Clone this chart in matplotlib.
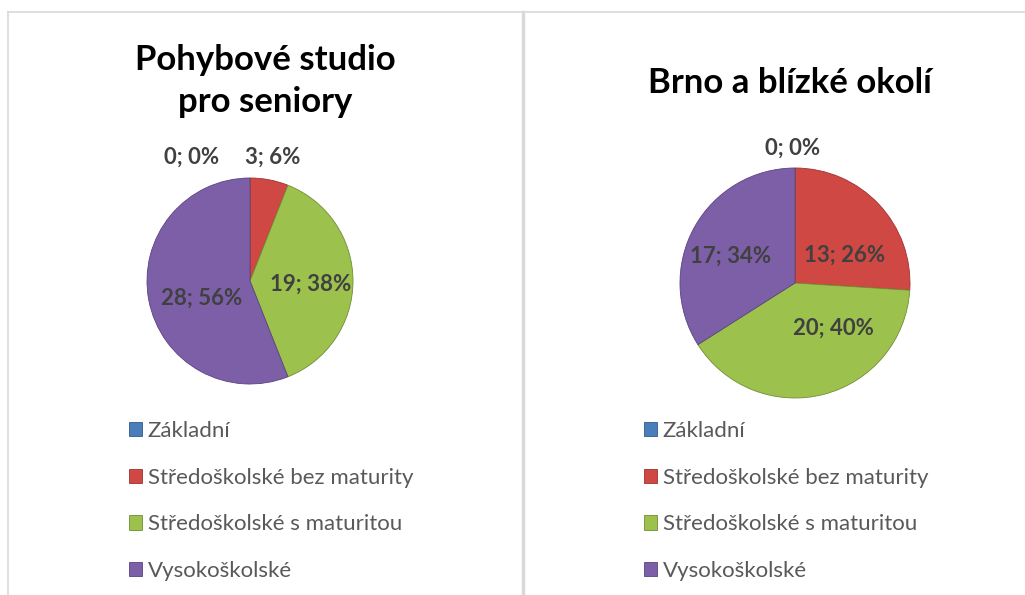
import matplotlib
matplotlib.use('Agg')
import matplotlib.pyplot as plt
from matplotlib.lines import Line2D
from matplotlib.patches import Patch

categories = ['Základní', 'Středoškolské bez maturity',
              'Středoškolské s maturitou', 'Vysokoškolské']
studio_counts = [0, 3, 19, 28]
studio_pct = [0, 6, 38, 56]
brno_counts = [0, 13, 20, 17]
brno_pct = [0, 26, 40, 34]
titles = ['Pohybové studio\npro seniory', 'Brno a blízké okolí']

colors = ['#4a7ebb', '#d04843', '#9cc24d', '#7d5fa8']
edge = ['#2f5a8c', '#9a3431', '#6f8d35', '#5a4380']

plt.rcParams['font.family'] = ['Lato', 'DejaVu Sans']

W, H = 1025, 595
fig = plt.figure(figsize=(W / 100, H / 100), dpi=100)

def fx(x):
    return x / W

def fy(y):
    return 1 - y / H

# panel frame lines
fig.add_artist(Line2D([fx(8), 1], [fy(12), fy(12)], color='#d9d9d9', lw=1.2))
fig.add_artist(Line2D([fx(8), fx(8)], [fy(12), 0], color='#d9d9d9', lw=1.2))
fig.add_artist(Line2D([fx(523), fx(523)], [fy(12), 0], color='#d9d9d9', lw=2.5))

panels = [
    dict(counts=studio_counts, pct=studio_pct, cx=250, cy=281, r=103,
         title=titles[0], tx=265, ty=81, leg_x=129, leg_y=421,
         lab_pos=[(-0.57, 1.20), (0.22, 1.20), (0.59, -0.03), (-0.47, -0.17)]),
    dict(counts=brno_counts, pct=brno_pct, cx=795, cy=283, r=115,
         title=titles[1], tx=790, ty=83, leg_x=644, leg_y=421,
         lab_pos=[(-0.02, 1.17), (0.43, 0.24), (0.33, -0.39), (-0.56, 0.23)]),
]

for p in panels:
    r = p['r']
    ax = fig.add_axes([fx(p['cx'] - r), fy(p['cy'] + r), 2 * r / W, 2 * r / H])
    wedges, _ = ax.pie(p['counts'], colors=colors, startangle=90, counterclock=False,
                       radius=1, wedgeprops=dict(linewidth=0.6))
    for w, ec in zip(wedges, edge):
        w.set_edgecolor(ec)
    ax.set_xlim(-1, 1)
    ax.set_ylim(-1, 1)
    ax.set_aspect('equal')
    for (lx, ly), c, pc in zip(p['lab_pos'], p['counts'], p['pct']):
        ax.text(lx, ly, f'{c}; {pc}%', ha='center', va='center', fontsize=16,
                fontweight='bold', color='#404040', clip_on=False)

    fig.text(fx(p['tx']), fy(p['ty']), p['title'], ha='center', va='center',
             fontsize=25, fontweight='bold', color='black', linespacing=1.38)

    handles = [Patch(facecolor=c, edgecolor=e, lw=0.6) for c, e in zip(colors, edge)]
    fig.legend(handles, categories, loc='upper left',
               bbox_to_anchor=(fx(p['leg_x']), fy(p['leg_y'])),
               frameon=False, fontsize=16, labelcolor='#595959',
               handlelength=0.6, handleheight=0.6, handletextpad=0.25,
               labelspacing=1.2, borderaxespad=0, borderpad=0)

fig.savefig('out.png', dpi=100)
